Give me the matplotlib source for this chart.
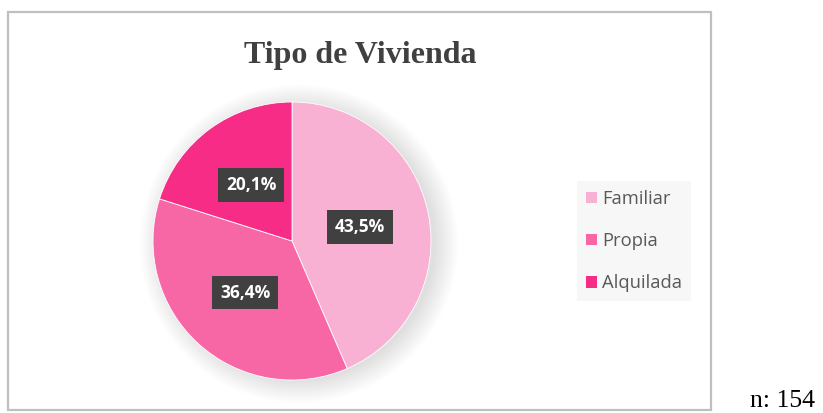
import matplotlib
matplotlib.use("Agg")
import matplotlib.pyplot as plt
from matplotlib.patches import Rectangle, Circle

# data
categories = ["Familiar", "Propia", "Alquilada"]
values = [43.5, 36.4, 20.1]
colors = ["#F9B1D3", "#F766A5", "#F62C86"]
title = "Tipo de Vivienda"
note = "n: 154"

W, H = 823, 413
fig = plt.figure(figsize=(W / 100, H / 100), dpi=100)


def fx(px):
    return px / W


def fy(py):
    return 1 - py / H


# outer chart border
fig.patches.append(Rectangle((fx(8), fy(410)), fx(711) - fx(8), fy(12) - fy(410),
                             transform=fig.transFigure, fill=False,
                             edgecolor="#BFBFBF", linewidth=1.6))

# pie axes
cx, cy, r = 292, 241, 139
ax = fig.add_axes([fx(cx - r), fy(cy + r), 2 * r / W, 2 * r / H])

# soft shadow behind the pie
for i in range(16):
    ax.add_patch(Circle((0.05, -0.02), 0.98 + i * 0.011, facecolor="black",
                        alpha=0.009, edgecolor="none", zorder=0, clip_on=False))

labels = [("%.1f%%" % v).replace(".", ",") for v in values]
wedges, texts = ax.pie(values, colors=colors, startangle=90, counterclock=False,
                       labels=labels, labeldistance=0.5,
                       wedgeprops=dict(linewidth=0.6, edgecolor="white"))
for w in wedges:
    w.set_zorder(2)
for t in texts:
    t.set_color("white")
    t.set_fontweight("bold")
    t.set_fontsize(12.5)
    t.set_family("Open Sans")
    t.set_ha("center")
    t.set_va("center")
    t.set_zorder(5)
    t.set_bbox(dict(boxstyle="square,pad=0.45", facecolor="#404040",
                    edgecolor="none"))
ax.set_xlim(-1, 1)
ax.set_ylim(-1, 1)
ax.set_aspect("equal")
ax.axis("off")

# title
fig.text(fx(360), fy(63), title, ha="center", va="baseline", fontsize=23,
         fontweight="bold", family="Liberation Serif", color="#404040")

# legend
handles = [Rectangle((0, 0), 1, 1, facecolor=c, edgecolor="none") for c in colors]
leg = fig.legend(handles, categories, loc="center", bbox_to_anchor=(fx(634), fy(241)),
                 frameon=True, fancybox=False, facecolor="#F7F7F7", edgecolor="none",
                 framealpha=1, prop={"family": "Open Sans", "size": 13.2},
                 labelspacing=1.32, handlelength=0.6, handleheight=0.6,
                 handletextpad=0.3, borderpad=0.5, borderaxespad=0)
for t in leg.get_texts():
    t.set_color("#595959")

# sample size note
fig.text(fx(782), fy(407), note, ha="center", va="baseline", fontsize=18.5,
         family="Liberation Serif", color="black")

fig.savefig("out.png", dpi=100)
